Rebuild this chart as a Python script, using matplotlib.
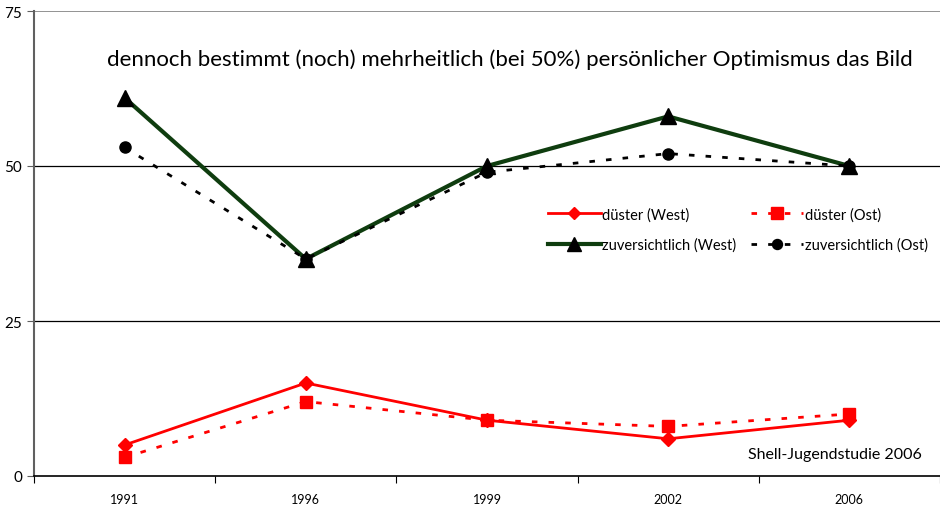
import matplotlib.pyplot as plt
import numpy as np

plt.rcParams['font.family'] = ['Lato', 'DejaVu Sans']

years = ['1991', '1996', '1999', '2002', '2006']
duester_west = [5, 15, 9, 6, 9]
duester_ost = [3, 12, 9, 8, 10]
zuv_west = [61, 35, 50, 58, 50]
zuv_ost = [53, 35, 49, 52, 50]

x = np.arange(len(years))

fig = plt.figure(figsize=(9.4, 5.06), dpi=100)
ax = fig.add_axes([34/940, 29/506, 906/940, 465/506])

# grid lines
for v in (25, 50):
    ax.axhline(v, color='black', lw=0.9, zorder=0)
ax.axhline(75, color='#808080', lw=1.2, zorder=0)

l_dw, = ax.plot(x, duester_west, color='#ff0000', lw=2, marker='D', ms=7,
                label='düster (West)')
l_do, = ax.plot(x, duester_ost, color='#ff0000', lw=2, ls=(0, (2, 4)), marker='s', ms=9,
                label='düster (Ost)')
l_zw, = ax.plot(x, zuv_west, color='#0f3d0f', lw=3, marker='^', ms=11,
                mfc='black', mec='black', label='zuversichtlich (West)')
l_zo, = ax.plot(x, zuv_ost, color='black', lw=2, ls=(0, (2, 4)), marker='o', ms=8,
                label='zuversichtlich (Ost)')

ax.set_xlim(-0.5, 4.5)
ax.set_ylim(0, 75)

# category labels and boundary ticks
ax.set_xticks(np.arange(-0.5, 5, 1))
ax.set_xticklabels([])
ax.set_xticks(x, minor=True)
ax.set_xticklabels(years, minor=True, fontsize=9)
ax.tick_params(axis='x', which='minor', length=0, pad=12)
ax.tick_params(axis='x', which='major', length=5, direction='out', color='black')
ax.set_yticks([0, 25, 50, 75])
ax.tick_params(axis='y', length=5, labelsize=11, color='#606060')

for s in ('top', 'right'):
    ax.spines[s].set_visible(False)
ax.spines['left'].set_color('#606060')
ax.spines['left'].set_linewidth(1.5)
ax.spines['bottom'].set_color('black')
ax.spines['bottom'].set_linewidth(1.2)

ax.text(0.525, 0.897, 'dennoch bestimmt (noch) mehrheitlich (bei 50%) persönlicher Optimismus das Bild',
        transform=ax.transAxes, ha='center', va='center', fontsize=16)
ax.text(0.98, 0.047, 'Shell-Jugendstudie 2006', transform=ax.transAxes,
        ha='right', va='center', fontsize=11.5)

# legend filled row-wise like the original
handles = [l_dw, l_zw, l_do, l_zo]
ax.legend(handles, [h.get_label() for h in handles], ncol=2, frameon=False,
          loc='center left', bbox_to_anchor=(0.553, 0.53),
          fontsize=10.5, handlelength=3.6, handletextpad=0.1, columnspacing=1.0,
          labelspacing=1.1, markerscale=0.9)

fig.savefig('out.png', dpi=100)
